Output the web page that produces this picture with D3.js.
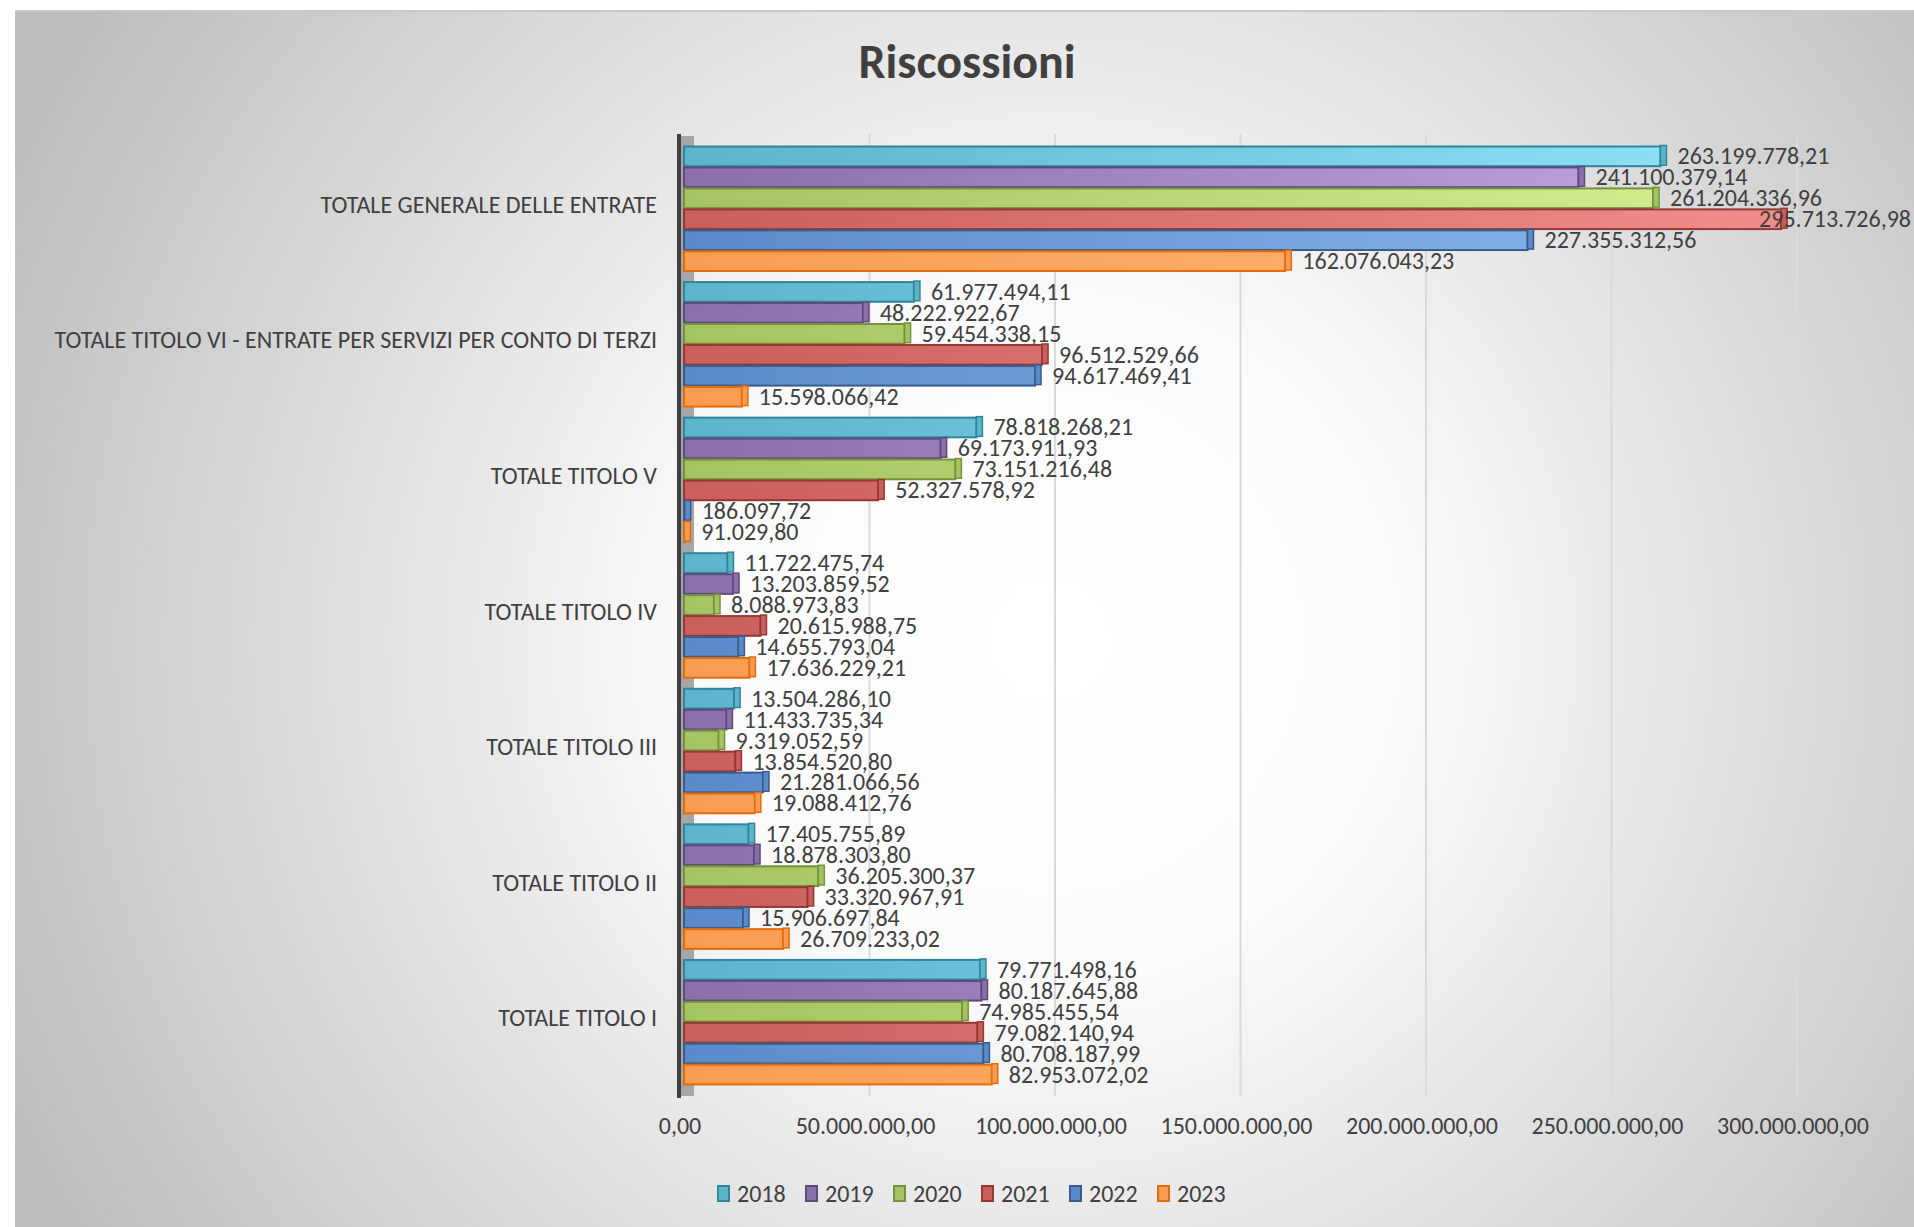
<!DOCTYPE html>
<html>
<head>
    <title>Riscossioni</title>
    <script src="https://d3js.org/d3.v7.min.js"></script>
    <style>
        body {
            margin: 0;
            padding: 0;
            background-color: #fff;
        }
        text {
            font-family: Carlito, Lato, sans-serif;
            fill: #404040;
        }
    </style>
</head>
<body>
    <svg id="chart" width="1914" height="1227"></svg>
    <script>
        // categorie dall'alto verso il basso
        const categories = [
            "TOTALE GENERALE DELLE ENTRATE",
            "TOTALE TITOLO VI - ENTRATE PER SERVIZI PER CONTO DI TERZI",
            "TOTALE TITOLO V",
            "TOTALE TITOLO IV",
            "TOTALE TITOLO III",
            "TOTALE TITOLO II",
            "TOTALE TITOLO I"
        ];
        const years = ["2018", "2019", "2020", "2021", "2022", "2023"];

        const values2018 = [263199778.21, 61977494.11, 78818268.21, 11722475.74, 13504286.10, 17405755.89, 79771498.16];
        const values2019 = [241100379.14, 48222922.67, 69173911.93, 13203859.52, 11433735.34, 18878303.80, 80187645.88];
        const values2020 = [261204336.96, 59454338.15, 73151216.48, 8088973.83, 9319052.59, 36205300.37, 74985455.54];
        const values2021 = [295713726.98, 96512529.66, 52327578.92, 20615988.75, 13854520.80, 33320967.91, 79082140.94];
        const values2022 = [227355312.56, 94617469.41, 186097.72, 14655793.04, 21281066.56, 15906697.84, 80708187.99];
        const values2023 = [162076043.23, 15598066.42, 91029.80, 17636229.21, 19088412.76, 26709233.02, 82953072.02];
        const seriesValues = [values2018, values2019, values2020, values2021, values2022, values2023];

        const xTicks = [0, 50000000, 100000000, 150000000, 200000000, 250000000, 300000000];

        // colori stile Excel 2007 (base, chiaro, bordo)
        const colors = [
            {base: "#5cb4cb", light: "#93e4f8", stroke: "#31849b"},
            {base: "#8a70ab", light: "#c3a9e1", stroke: "#5f497a"},
            {base: "#a4c362", light: "#d7f095", stroke: "#76923c"},
            {base: "#c95f5b", light: "#f18e8b", stroke: "#953735"},
            {base: "#5b8aca", light: "#8cbaf1", stroke: "#385d8a"},
            {base: "#f89c52", light: "#ffbb78", stroke: "#e46c0a"}
        ];

        const it = d3.formatLocale({decimal: ",", thousands: ".", grouping: [3], currency: ["€", ""]});
        const fmt = it.format(",.2f");

        const svg = d3.select("#chart");
        const defs = svg.append("defs");

        // sfondo radiale
        const bg = defs.append("radialGradient").attr("id", "bg")
            .attr("gradientUnits", "userSpaceOnUse")
            .attr("cx", 1050).attr("cy", 640).attr("r", 1150);
        bg.append("stop").attr("offset", "0").attr("stop-color", "#ffffff");
        bg.append("stop").attr("offset", "0.3").attr("stop-color", "#fbfbfb");
        bg.append("stop").attr("offset", "1").attr("stop-color", "#bdbdbd");

        svg.append("rect").attr("x", 15).attr("y", 11).attr("width", 1899).attr("height", 1216)
            .attr("fill", "url(#bg)");
        svg.append("line").attr("x1", 15).attr("x2", 1914).attr("y1", 11).attr("y2", 11)
            .attr("stroke", "#c8c8c8").attr("stroke-width", 2);

        const x = d3.scaleLinear().domain([0, 300000000]).range([684, 1797]);
        const y0 = d3.scaleBand().domain(categories).range([141, 1090]);
        const y1 = d3.scaleBand().domain(years).range([5.5, 130]).paddingInner(0.06);

        colors.forEach((c, i) => {
            const g = defs.append("linearGradient").attr("id", "grad" + i)
                .attr("gradientUnits", "userSpaceOnUse")
                .attr("x1", x(0)).attr("x2", x(300000000)).attr("y1", 0).attr("y2", 0);
            g.append("stop").attr("offset", "0").attr("stop-color", c.base);
            g.append("stop").attr("offset", "1").attr("stop-color", c.light);
        });

        // titolo
        svg.append("text")
            .attr("x", 967).attr("y", 78)
            .attr("text-anchor", "middle")
            .style("font-size", "48px").style("font-weight", "bold")
            .text("Riscossioni");

        // griglia
        svg.append("g").selectAll("line")
            .data(xTicks.slice(1))
            .join("line")
            .attr("x1", d => x(d)).attr("x2", d => x(d))
            .attr("y1", 134).attr("y2", 1096)
            .attr("stroke", "#dadada").attr("stroke-width", 2);

        // parete 3D e asse
        svg.append("rect").attr("x", 681).attr("y", 136).attr("width", 13).attr("height", 960)
            .attr("fill", "#a6a6a6");
        svg.append("line").attr("x1", 679).attr("x2", 679).attr("y1", 134).attr("y2", 1098)
            .attr("stroke", "#404040").attr("stroke-width", 4);

        // barre
        const groups = svg.append("g").selectAll("g")
            .data(categories)
            .join("g")
            .attr("transform", d => `translate(0,${y0(d)})`);

        const bars = groups.selectAll("g")
            .data((cat, ci) => years.map((yr, si) => ({cat: cat, year: yr, si: si, value: seriesValues[si][ci]})))
            .join("g");

        const depth = 6;
        bars.append("rect")
            .attr("x", x(0))
            .attr("y", d => y1(d.year))
            .attr("width", d => Math.max(1, x(d.value) - x(0)))
            .attr("height", y1.bandwidth())
            .attr("fill", d => `url(#grad${d.si})`)
            .attr("stroke", d => colors[d.si].stroke)
            .attr("stroke-width", 2);

        // faccia laterale
        bars.append("rect")
            .attr("x", d => x(d.value))
            .attr("y", d => y1(d.year) - 1)
            .attr("width", depth)
            .attr("height", y1.bandwidth())
            .attr("fill", d => colors[d.si].base)
            .attr("stroke", d => colors[d.si].stroke)
            .attr("stroke-width", 1.5);

        bars.append("text")
            .attr("x", d => x(d.value) + depth + 11)
            .attr("y", d => y1(d.year) + y1.bandwidth() / 2 + 8)
            .style("font-size", "24px")
            .text(d => fmt(d.value))
            .each(function() {
                // se esce dal grafico, spostala a sinistra
                const w = this.getComputedTextLength();
                const xx = +this.getAttribute("x");
                if (xx + w > 1911) this.setAttribute("x", 1911 - w);
            });

        // etichette categorie
        svg.append("g").selectAll("text")
            .data(categories)
            .join("text")
            .attr("x", 657)
            .attr("y", d => y0(d) + y0.bandwidth() / 2 + 4)
            .attr("text-anchor", "end")
            .style("font-size", "24px")
            .text(d => d);

        // etichette asse x
        svg.append("g").selectAll("text")
            .data(xTicks)
            .join("text")
            .attr("x", d => x(d) - 4)
            .attr("y", 1134)
            .attr("text-anchor", "middle")
            .style("font-size", "24px")
            .text(d => fmt(d));

        // legenda
        const legend = svg.append("g").selectAll("g")
            .data(years)
            .join("g")
            .attr("transform", (d, i) => `translate(${718 + i * 88},1186)`);
        legend.append("rect")
            .attr("width", 11).attr("height", 15)
            .attr("fill", (d, i) => colors[i].base)
            .attr("stroke", (d, i) => colors[i].stroke)
            .attr("stroke-width", 2);
        legend.append("text")
            .attr("x", 19).attr("y", 16)
            .style("font-size", "24px")
            .text(d => d);
    </script>
</body>
</html>
